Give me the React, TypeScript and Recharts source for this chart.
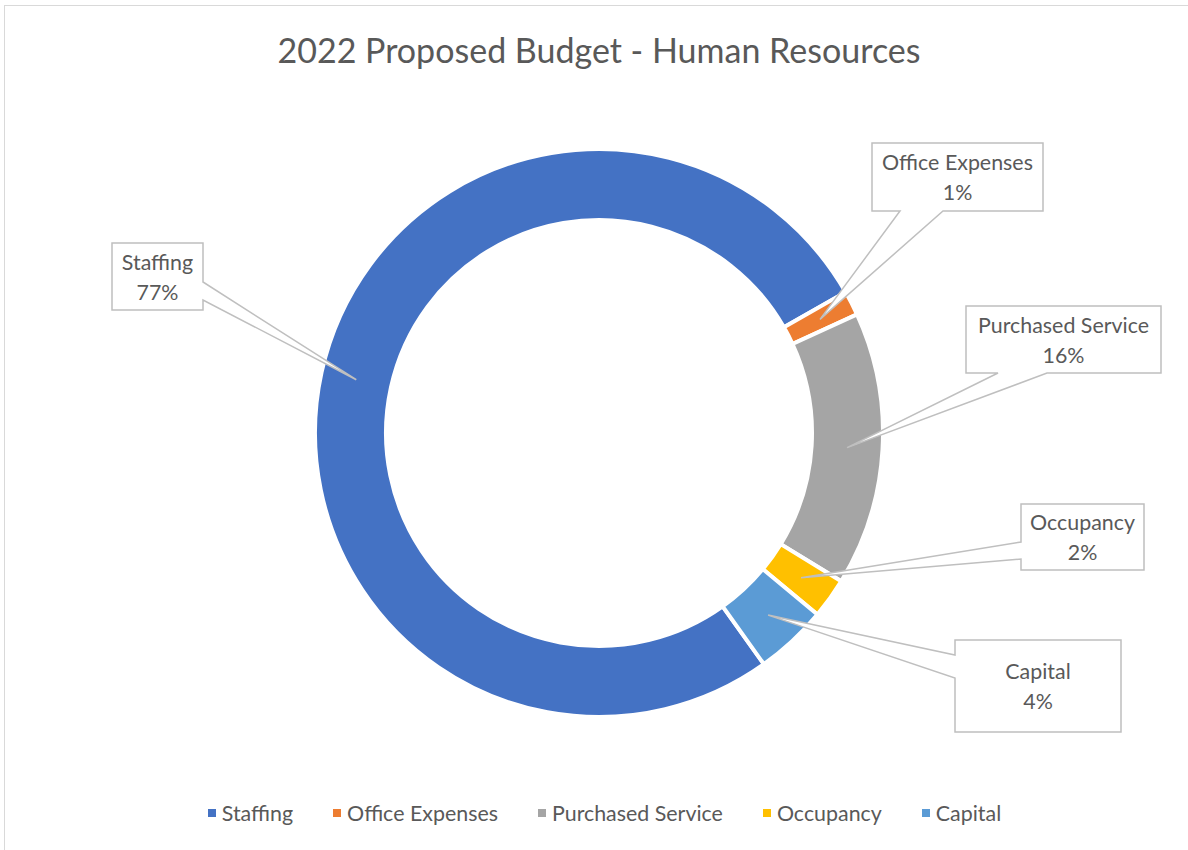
import React from 'react';
import { PieChart, Pie, Cell, Legend } from 'recharts';

const categories = ['Staffing', 'Office Expenses', 'Purchased Service', 'Occupancy', 'Capital'];
const shares = [76.6, 1.4, 15.6, 2.3, 4.1];
const sliceColors = ['#4472C4', '#ED7D31', '#A5A5A5', '#FFC000', '#5B9BD5'];

// callout box layout (style/position only)
const calloutBoxes = [
  { x: 112, y: 243, w: 91, h: 67, side: 'right', a: 282, b: 300 },
  { x: 872, y: 143, w: 171, h: 68, side: 'bottom', a: 900, b: 943 },
  { x: 966, y: 306, w: 195, h: 67, side: 'bottom', a: 998, b: 1047 },
  { x: 1021, y: 504, w: 123, h: 66, side: 'left', a: 542, b: 559 },
  { x: 955, y: 640, w: 166, h: 92, side: 'left', a: 655, b: 678 },
];

const data = categories.map((name, i) => ({ name, value: shares[i] }));

const FONT = 'Lato, "Noto Sans", sans-serif';
const TEXT = '#595959';
const RADIAN = Math.PI / 180;

function calloutPath(bx: any, tx: number, ty: number) {
  const { x, y, w, h, side, a, b } = bx;
  const R = x + w, B = y + h;
  const pts: [number, number][] = [];
  pts.push([x, y]);
  if (side === 'top') pts.push([a, y], [tx, ty], [b, y]);
  pts.push([R, y]);
  if (side === 'right') pts.push([R, a], [tx, ty], [R, b]);
  pts.push([R, B]);
  if (side === 'bottom') pts.push([b, B], [tx, ty], [a, B]);
  pts.push([x, B]);
  if (side === 'left') pts.push([x, b], [tx, ty], [x, a]);
  return 'M' + pts.map((p) => p[0] + ',' + p[1]).join('L') + 'Z';
}

const renderLabel = (props: any) => {
  const { cx, cy, midAngle, innerRadius, outerRadius, percent, index, name } = props;
  const r = (innerRadius + outerRadius) / 2;
  const tx = cx + r * Math.cos(-midAngle * RADIAN);
  const ty = cy + r * Math.sin(-midAngle * RADIAN);
  const bx = calloutBoxes[index];
  const mx = bx.x + bx.w / 2;
  const my = bx.y + bx.h / 2;
  return (
    <g key={'lbl' + index}>
      <path d={calloutPath(bx, tx, ty)} fill="#ffffff" stroke="#BFBFBF" strokeWidth={1.5} strokeLinejoin="miter" />
      <text x={mx} y={my - 15} textAnchor="middle" dominantBaseline="central" fontFamily={FONT} fontSize={21.4} fill={TEXT}>
        {name}
      </text>
      <text x={mx} y={my + 15} textAnchor="middle" dominantBaseline="central" fontFamily={FONT} fontSize={21.4} fill={TEXT}>
        {Math.round(percent * 100) + '%'}
      </text>
    </g>
  );
};

const renderLegend = (props: any) => {
  const payload = [...(props.payload || [])].sort(
    (p: any, q: any) => categories.indexOf(p.value) - categories.indexOf(q.value)
  );
  return (
    <div style={{ display: 'flex', justifyContent: 'center', alignItems: 'center', fontFamily: FONT, fontSize: 21.4, color: TEXT, paddingLeft: 21 }}>
      {payload.map((entry: any, i: number) => (
        <div key={i} style={{ display: 'flex', alignItems: 'center', marginRight: i < payload.length - 1 ? 40 : 0 }}>
          <span style={{ display: 'inline-block', width: 8, height: 8, background: entry.color, marginRight: 6 }} />
          <span>{entry.value}</span>
        </div>
      ))}
    </div>
  );
};

export default function App() {
  return (
    <div style={{ position: 'absolute', left: 0, top: 0, width: 1188, height: 850, overflow: 'hidden', background: '#ffffff' }}>
      <div style={{ position: 'absolute', left: 4, top: 5, width: 1200, height: 860, border: '1px solid #D9D9D9', boxSizing: 'border-box' }} />
      <div style={{ position: 'absolute', left: 0, top: 27, width: 1198, textAlign: 'center', fontFamily: FONT, fontSize: 34, color: TEXT, lineHeight: '46px' }}>
        2022 Proposed Budget - Human Resources
      </div>
      <div style={{ position: 'absolute', left: 0, top: 0 }}>
        <PieChart width={1188} height={850}>
          <Pie
            data={data}
            dataKey="value"
            nameKey="name"
            cx={594}
            cy={428}
            innerRadius={213}
            outerRadius={284}
            startAngle={-54.5}
            endAngle={-414.5}
            stroke="#ffffff"
            strokeWidth={4}
            label={renderLabel}
            labelLine={false}
            isAnimationActive={false}
          >
            {data.map((d, i) => (
              <Cell key={d.name} fill={sliceColors[i]} />
            ))}
          </Pie>
          <Legend content={renderLegend} wrapperStyle={{ position: 'absolute', left: 0, top: 800, width: 1188, height: 28 }} />
        </PieChart>
      </div>
    </div>
  );
}
